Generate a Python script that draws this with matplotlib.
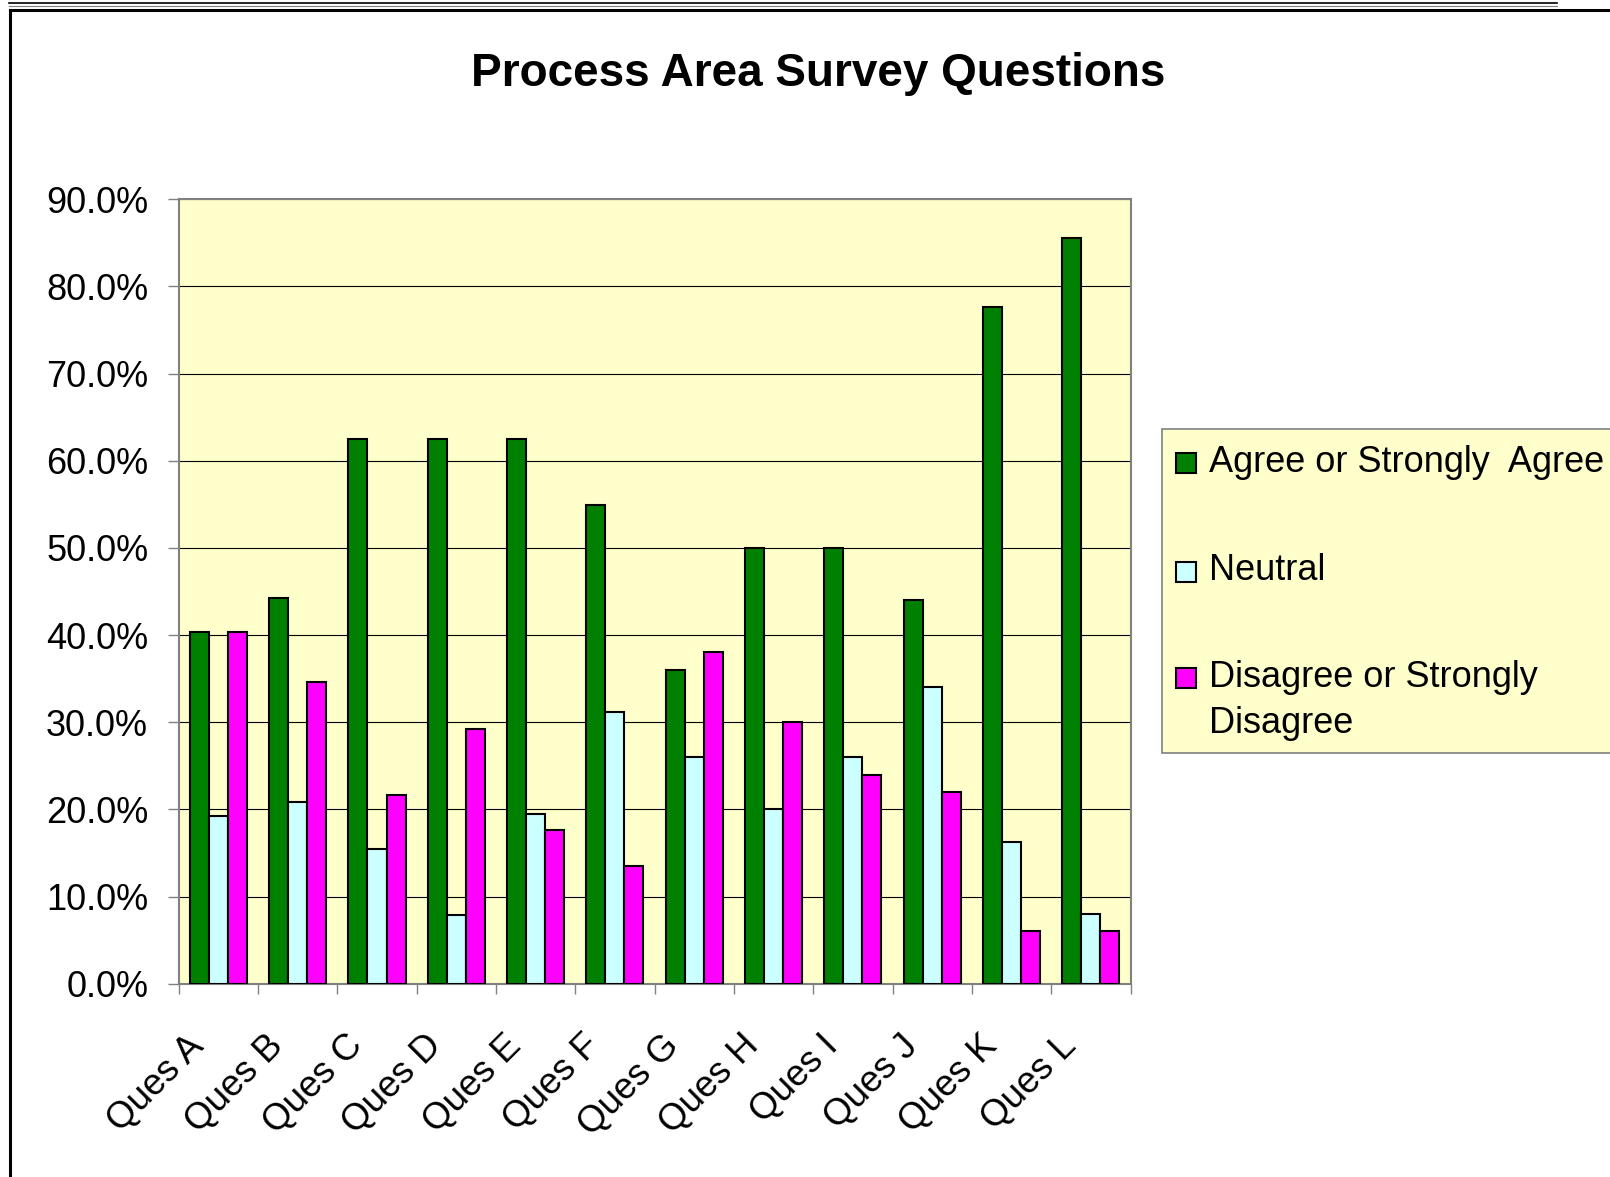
import numpy as np
import matplotlib
matplotlib.use('Agg')
import matplotlib.pyplot as plt
from matplotlib.patches import Rectangle
from matplotlib.lines import Line2D
from matplotlib.transforms import ScaledTranslation
from matplotlib.ticker import FuncFormatter

categories = ['Ques A', 'Ques B', 'Ques C', 'Ques D', 'Ques E', 'Ques F',
              'Ques G', 'Ques H', 'Ques I', 'Ques J', 'Ques K', 'Ques L']
agree = [40.3, 44.3, 62.5, 62.5, 62.5, 54.9, 36.0, 50.0, 50.0, 44.0, 77.6, 85.6]
neutral = [19.2, 20.9, 15.5, 7.9, 19.5, 31.2, 26.0, 20.0, 26.0, 34.0, 16.3, 8.0]
disagree = [40.3, 34.6, 21.6, 29.2, 17.6, 13.5, 38.0, 30.0, 24.0, 22.0, 6.0, 6.0]
series_names = ['Agree or Strongly  Agree', 'Neutral', 'Disagree or Strongly']
yticks = [0, 10, 20, 30, 40, 50, 60, 70, 80, 90]

colors = ['#008000', '#CCFFFF', '#FF00FF']
W, H = 1610, 1177
FONT = 'Liberation Sans'


def fx(x):
    return x / W


def fy(y):
    return 1 - y / H


def main():
    plt.rcParams['font.family'] = [FONT, 'DejaVu Sans']
    fig = plt.figure(figsize=(W / 100, H / 100), dpi=100)

    # outer frame lines
    fig.add_artist(Line2D([fx(9), fx(1557)], [fy(3), fy(3)], color='black', lw=1.2,
                          transform=fig.transFigure))
    fig.add_artist(Line2D([fx(9), fx(1557)], [fy(6), fy(6)], color='#808080', lw=0.8,
                          transform=fig.transFigure))
    fig.add_artist(Line2D([fx(9.5), fx(1615)], [fy(9.5), fy(9.5)], color='black', lw=2.2,
                          transform=fig.transFigure))
    fig.add_artist(Line2D([fx(9.5), fx(9.5)], [fy(9.5), fy(1185)], color='black', lw=2.2,
                          transform=fig.transFigure))

    left, right, top, bottom = 178.7, 1130.5, 199.2, 983.7
    ax = fig.add_axes([fx(left), fy(bottom), (right - left) / W, (bottom - top) / H])
    ax.set_facecolor('#FFFFCC')

    x = np.arange(len(categories))
    w = 0.24
    for i, (vals, c) in enumerate(zip([agree, neutral, disagree], colors)):
        ax.bar(x + (i - 1) * w, vals, width=w, color=c, edgecolor='black', linewidth=1.5, zorder=3)

    ax.set_xlim(-0.5, len(categories) - 0.5)
    ax.set_ylim(0, 90)
    ax.set_yticks(yticks)
    ax.yaxis.set_major_formatter(FuncFormatter(lambda v, p: '%.1f%%' % v))
    ax.yaxis.grid(True, color='black', linewidth=0.8, zorder=1)
    ax.set_axisbelow(True)
    for s in ax.spines.values():
        s.set_color('#808080')
        s.set_linewidth(1.5)

    ax.tick_params(axis='y', direction='out', length=8, width=1, color='#808080',
                   pad=14, labelsize=26)
    ax.set_xticks(x)
    ax.set_xticks(np.arange(-0.5, len(categories)), minor=True)
    ax.tick_params(axis='x', which='major', length=0, pad=41, labelsize=26.5)
    ax.tick_params(axis='x', which='minor', direction='out', length=7, width=1, color='#808080')
    ax.set_xticklabels(categories, rotation=45, ha='right', va='center', rotation_mode='anchor')
    off = ScaledTranslation(-20 / 100, 0, fig.dpi_scale_trans)
    for lab in ax.get_xticklabels():
        lab.set_transform(lab.get_transform() + off)

    fig.text(fx(818), fy(74), 'Process Area Survey Questions', ha='center', va='center',
             fontsize=33, fontweight='bold')

    # legend box
    fig.add_artist(Rectangle((fx(1161.5), fy(752.5)), fx(1625 - 1161.5), (752.5 - 429) / H,
                             facecolor='#FFFFCC', edgecolor='#808080', lw=1.2,
                             transform=fig.transFigure))
    sq_centers = [463, 572, 678]
    baselines = [472, 580, 687]
    for c, name, sc, bl in zip(colors, series_names, sq_centers, baselines):
        fig.add_artist(Rectangle((fx(1176), fy(sc + 10)), fx(20), 20 / H, facecolor=c,
                                 edgecolor='black', lw=1.5, transform=fig.transFigure))
        fig.text(fx(1209), fy(bl), name, ha='left', va='baseline', fontsize=26)
    fig.text(fx(1209), fy(733), 'Disagree', ha='left', va='baseline', fontsize=26)

    fig.savefig('out.png', dpi=100)


if __name__ == '__main__':
    main()
